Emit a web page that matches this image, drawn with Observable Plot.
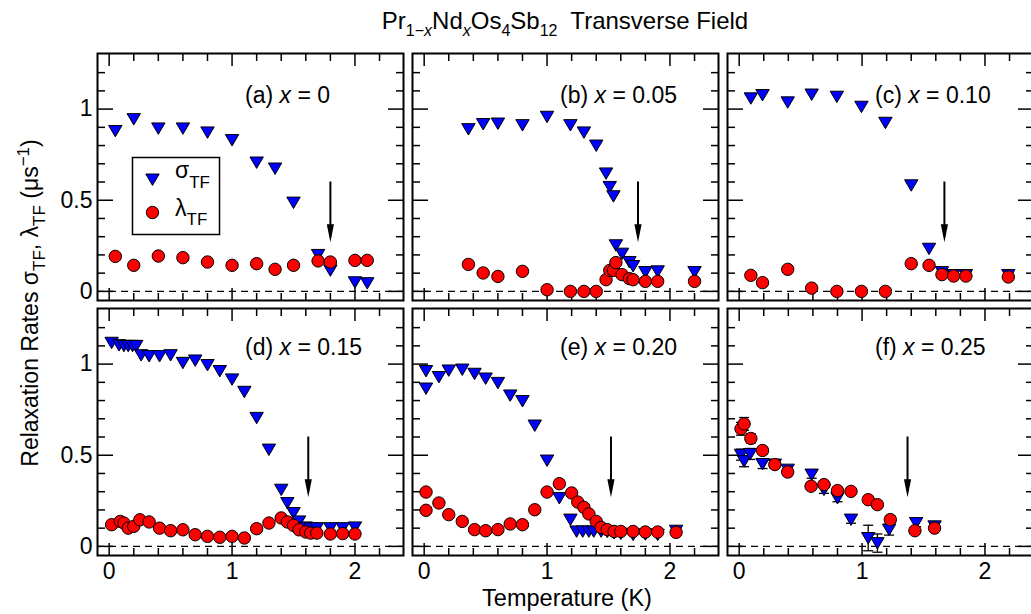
<!DOCTYPE html>
<html><head><meta charset="utf-8">
<script src="https://cdn.jsdelivr.net/npm/d3@7"></script>
<script src="https://cdn.jsdelivr.net/npm/@observablehq/plot@0.6"></script>
<style>
html,body{margin:0;padding:0;background:#fff;overflow:hidden}
#chart{position:relative;width:1031px;height:614px;overflow:hidden;background:#fff;font-family:"Liberation Sans",Arial,Helvetica,sans-serif}
#chart svg{position:absolute;max-width:none;overflow:visible;background:none}
</style></head><body><div id="chart"></div>
<script>
// ---------- tick values ----------
const xMajorTicks = [0, 1, 2];
const xMinorTicks = [0.2, 0.4, 0.6, 0.8, 1.2, 1.4, 1.6, 1.8, 2.2];
const yMajorTicks = [0, 0.5, 1];
const yMinorTicks = [0.1, 0.2, 0.3, 0.4, 0.6, 0.7, 0.8, 0.9, 1.1, 1.2];

// ---------- panel labels ----------
const panelLetters = ["(a)", "(b)", "(c)", "(d)", "(e)", "(f)"];
const ndContent = ["0", "0.05", "0.10", "0.15", "0.20", "0.25"];

// ---------- (a) x = 0 ----------
const aT = [0.05, 0.2, 0.4, 0.6, 0.8, 1.0, 1.2, 1.35, 1.5, 1.7, 1.8, 2.0, 2.1];
const aSigma = [0.88, 0.945, 0.894, 0.894, 0.872, 0.83, 0.707, 0.674, 0.487, 0.20, 0.115, 0.05, 0.045];
const aLambda = [0.192, 0.143, 0.194, 0.185, 0.161, 0.143, 0.152, 0.121, 0.143, 0.167, 0.161, 0.17, 0.17];

// ---------- (b) x = 0.05 ----------
const bT = [0.36, 0.48, 0.60, 0.80, 1.00, 1.19, 1.30, 1.40, 1.48, 1.51, 1.54, 1.56, 1.61, 1.67, 1.70, 1.80, 1.90, 2.20];
const bSigma = [0.89, 0.918, 0.921, 0.912, 0.958, 0.912, 0.872, 0.80, 0.647, 0.573, 0.522, 0.253, 0.207, 0.161, 0.139, 0.106, 0.11, 0.106];
const bLambda = [0.148, 0.101, 0.082, 0.11, 0.009, 0.0, 0.0, 0.0, 0.064, 0.115, 0.115, 0.158, 0.092, 0.07, 0.064, 0.055, 0.055, 0.055];

// ---------- (c) x = 0.10 ----------
const cT = [0.095, 0.19, 0.395, 0.59, 0.795, 0.995, 1.19, 1.40, 1.545, 1.65, 1.745, 1.845, 2.19];
const cSigma = [1.059, 1.077, 1.037, 1.08, 1.068, 1.013, 0.925, 0.582, 0.234, 0.106, 0.09, 0.09, 0.09];
const cLambda = [0.088, 0.048, 0.121, 0.018, 0.0, 0.0, 0.0, 0.152, 0.143, 0.092, 0.084, 0.084, 0.079];

// ---------- (d) x = 0.15 ----------
const dSigmaT = [0.02, 0.08, 0.12, 0.155, 0.19, 0.22, 0.26, 0.325, 0.41, 0.50, 0.60, 0.70, 0.80, 0.90, 1.0, 1.10, 1.20, 1.30, 1.40, 1.45, 1.50, 1.545, 1.60, 1.64, 1.69, 1.80, 1.90, 2.0];
const dSigma = [1.117, 1.104, 1.10, 1.10, 1.10, 1.10, 1.049, 1.044, 1.044, 1.049, 1.007, 1.02, 0.995, 0.962, 0.916, 0.848, 0.705, 0.531, 0.311, 0.238, 0.183, 0.137, 0.104, 0.10, 0.10, 0.10, 0.10, 0.104];
const dLambdaT = [0.02, 0.09, 0.12, 0.155, 0.20, 0.25, 0.325, 0.41, 0.50, 0.60, 0.70, 0.80, 0.90, 1.0, 1.10, 1.20, 1.30, 1.40, 1.45, 1.50, 1.545, 1.60, 1.64, 1.69, 1.80, 1.90, 2.0];
const dLambda = [0.119, 0.137, 0.128, 0.10, 0.11, 0.146, 0.134, 0.10, 0.086, 0.091, 0.064, 0.055, 0.05, 0.055, 0.046, 0.097, 0.128, 0.156, 0.134, 0.115, 0.091, 0.079, 0.073, 0.073, 0.068, 0.07, 0.068];

// ---------- (e) x = 0.20 ----------
const eSigmaT = [0.015, 0.015, 0.12, 0.20, 0.31, 0.41, 0.50, 0.60, 0.70, 0.80, 0.90, 1.0, 1.10, 1.19, 1.24, 1.29, 1.34, 1.38, 1.44, 1.49, 1.545, 1.60, 1.70, 1.80, 1.90, 2.05];
const eSigma = [0.866, 0.962, 0.929, 0.965, 0.97, 0.947, 0.921, 0.897, 0.828, 0.797, 0.663, 0.471, 0.265, 0.147, 0.082, 0.082, 0.082, 0.082, 0.082, 0.08, 0.073, 0.07, 0.064, 0.066, 0.064, 0.086];
const eLambdaT = [0.015, 0.015, 0.12, 0.20, 0.31, 0.41, 0.50, 0.60, 0.70, 0.80, 0.90, 1.0, 1.10, 1.20, 1.25, 1.30, 1.34, 1.40, 1.44, 1.49, 1.545, 1.60, 1.70, 1.80, 1.90, 2.05];
const eLambda = [0.298, 0.198, 0.238, 0.174, 0.137, 0.092, 0.086, 0.092, 0.123, 0.119, 0.201, 0.298, 0.344, 0.293, 0.243, 0.214, 0.178, 0.137, 0.104, 0.092, 0.082, 0.082, 0.082, 0.079, 0.079, 0.077];

// ---------- (f) x = 0.25 (with error bars) ----------
const fSigmaT = [0.015, 0.04, 0.09, 0.19, 0.29, 0.395, 0.59, 0.69, 0.80, 0.91, 1.05, 1.125, 1.22, 1.44, 1.59];
const fSigma = [0.503, 0.467, 0.507, 0.452, 0.449, 0.421, 0.394, 0.311, 0.265, 0.147, 0.046, 0.018, 0.092, 0.128, 0.11];
const fSigmaErr = [0.03, 0.03, 0.03, 0.025, 0.02, 0.02, 0.02, 0.02, 0.02, 0.02, 0.07, 0.05, 0.03, 0.02, 0.02];
const fLambdaT = [0.015, 0.04, 0.095, 0.19, 0.29, 0.395, 0.585, 0.69, 0.80, 0.91, 1.05, 1.125, 1.23, 1.43, 1.59];
const fLambda = [0.645, 0.672, 0.592, 0.526, 0.449, 0.408, 0.33, 0.339, 0.306, 0.302, 0.256, 0.229, 0.147, 0.086, 0.10];
const fLambdaErr = [0.035, 0.035, 0.025, 0.02, 0.02, 0.02, 0.015, 0.015, 0.015, 0.015, 0.015, 0.015, 0.02, 0.015, 0.015];

// ---------- transition arrows (temperature of each arrow) ----------
const arrowT = [1.80, 1.74, 1.67, 1.62, 1.52, 1.37];
const arrowTop = 0.6;
const arrowTip = 0.27;

// ---------- build panels ----------
const panels = [
  {sT: aT, s: aSigma, lT: aT, l: aLambda},
  {sT: bT, s: bSigma, lT: bT, l: bLambda},
  {sT: cT, s: cSigma, lT: cT, l: cLambda},
  {sT: dSigmaT, s: dSigma, lT: dLambdaT, l: dLambda},
  {sT: eSigmaT, s: eSigma, lT: eLambdaT, l: eLambda},
  {sT: fSigmaT, s: fSigma, sE: fSigmaErr, lT: fLambdaT, l: fLambda, lE: fLambdaErr}
];

const BLUE = "#0000ff", RED = "#ff0000";
const triDown = {draw(ctx, size) { const r = Math.sqrt(size / Math.PI); ctx.moveTo(-r, -0.82 * r); ctx.lineTo(r, -0.82 * r); ctx.lineTo(0, 0.88 * r); ctx.closePath(); }};
const arrowHead = {draw(ctx) { ctx.moveTo(0, 0); ctx.lineTo(-3.6, -18); ctx.lineTo(3.6, -18); ctx.closePath(); }};
const cap = {draw(ctx) { ctx.moveTo(-5, 0); ctx.lineTo(5, 0); }};

const W = 306, H = 247, ML = 45, MR = 6, MT = 6, MB = 42;
const colLeft = [97, 412, 727], rowTop = [53, 308];
const chart = document.getElementById("chart");
const FONT = "Liberation Sans, Arial, Helvetica, sans-serif";

function tickMarks() {
  const o = {fill: "none", label: null, stroke: "#000", strokeWidth: 1.5};
  return [
    Plot.axisX(xMajorTicks, {...o, anchor: "bottom", tickSize: -12}),
    Plot.axisX(xMinorTicks, {...o, anchor: "bottom", tickSize: -7}),
    Plot.axisX(xMajorTicks, {...o, anchor: "top", tickSize: -12}),
    Plot.axisX(xMinorTicks, {...o, anchor: "top", tickSize: -7}),
    Plot.axisY(yMajorTicks, {...o, anchor: "left", tickSize: -16}),
    Plot.axisY(yMinorTicks, {...o, anchor: "left", tickSize: -8}),
    Plot.axisY(yMajorTicks, {...o, anchor: "right", tickSize: -16}),
    Plot.axisY(yMinorTicks, {...o, anchor: "right", tickSize: -8})
  ];
}

function errMarks(data) {
  return [
    Plot.ruleX(data, {x: "T", y1: d => d.v - d.e, y2: d => d.v + d.e, stroke: "#000", strokeWidth: 1.3}),
    Plot.dot(data, {x: "T", y: d => d.v - d.e, symbol: cap, r: 5, stroke: "#000", fill: "none", strokeWidth: 1.3}),
    Plot.dot(data, {x: "T", y: d => d.v + d.e, symbol: cap, r: 5, stroke: "#000", fill: "none", strokeWidth: 1.3})
  ];
}

panels.forEach((p, i) => {
  const col = i % 3, row = Math.floor(i / 3);
  const sData = p.sT.map((t, k) => ({T: t, v: p.s[k], e: p.sE ? p.sE[k] : 0}));
  const lData = p.lT.map((t, k) => ({T: t, v: p.l[k], e: p.lE ? p.lE[k] : 0}));
  const marks = [
    Plot.ruleY([0], {y: d => d, stroke: "#000", strokeWidth: 1.3, strokeDasharray: "7,5"}),
    ...tickMarks(),
    Plot.ruleX([arrowT[i]], {x: d => d, y1: () => arrowTop, y2: () => arrowTip + 0.03, stroke: "#000", strokeWidth: 2}),
    Plot.dot([arrowT[i]], {x: d => d, y: () => arrowTip, symbol: arrowHead, r: 5, fill: "#000", stroke: "none"}),
    ...(p.sE ? errMarks(sData) : []),
    Plot.dot(sData, {x: "T", y: "v", symbol: triDown, r: 6.7, fill: BLUE, stroke: "#000", strokeWidth: 1}),
    ...(p.lE ? errMarks(lData) : []),
    Plot.dot(lData, {x: "T", y: "v", r: 6.2, fill: RED, stroke: "#000", strokeWidth: 1}),
    Plot.frame({stroke: "#000", strokeWidth: 2})
  ];
  if (col === 0) marks.push(Plot.axisY(yMajorTicks, {anchor: "left", tickSize: 0, tickPadding: 5, fontSize: 23, label: null, tickFormat: d => String(d), fill: "#000"}));
  if (row === 1) marks.push(Plot.axisX(xMajorTicks, {anchor: "bottom", tickSize: 0, tickPadding: 7, fontSize: 23, label: null, tickFormat: d => String(d), fill: "#000"}));
  if (i === 0) {
    marks.push(
      Plot.frame({insetLeft: 35, insetTop: 104, insetRight: W - 35 - 87, insetBottom: H - 104 - 77, stroke: "#000", strokeWidth: 1.5}),
      Plot.dot([0], {frameAnchor: "top-left", dx: 55, dy: 126, symbol: triDown, r: 6.7, fill: BLUE, stroke: "#000", strokeWidth: 1}),
      Plot.dot([0], {frameAnchor: "top-left", dx: 55, dy: 159, r: 6.2, fill: RED, stroke: "#000", strokeWidth: 1})
    );
  }
  const svg = Plot.plot({
    width: W + ML + MR, height: H + MT + MB,
    marginLeft: ML, marginRight: MR, marginTop: MT, marginBottom: MB,
    x: {domain: [-0.095, 2.395]},
    y: {domain: [-0.05, 1.305]},
    style: {fontFamily: FONT, fontSize: "23px", background: "none", overflow: "visible", maxWidth: "none", color: "#000"},
    marks
  });
  svg.style.left = (colLeft[col] - ML) + "px";
  svg.style.top = (rowTop[row] - MT) + "px";
  const g = d3.select(svg);
  const t = g.append("text").attr("x", ML + 148).attr("y", MT + (row === 0 ? 50 : 47)).attr("text-anchor", "start")
    .attr("font-size", 23).attr("fill", "#000").attr("font-family", FONT).style("white-space", "pre");
  t.append("tspan").text(panelLetters[i] + " ");
  t.append("tspan").attr("font-style", "italic").text("x");
  t.append("tspan").text(" = " + ndContent[i]);
  if (i === 0) {
    const s = g.append("text").attr("x", ML + 78).attr("y", MT + 125).attr("text-anchor", "start").attr("font-size", 23).attr("fill", "#000").attr("font-family", FONT);
    s.append("tspan").text("σ");
    s.append("tspan").attr("font-size", 17).attr("dy", 10).text("TF");
    const l = g.append("text").attr("x", ML + 78).attr("y", MT + 163).attr("text-anchor", "start").attr("font-size", 23).attr("fill", "#000").attr("font-family", FONT);
    l.append("tspan").text("λ");
    l.append("tspan").attr("font-size", 17).attr("dy", 9).text("TF");
  }
  chart.appendChild(svg);
});

// ---------- titles & axis labels ----------
const ov = d3.select(chart).append("svg").attr("width", 1031).attr("height", 614)
  .style("left", "0px").style("top", "0px").style("pointer-events", "none")
  .attr("font-family", FONT).attr("fill", "#000");
const title = ov.append("text").attr("x", 565).attr("y", 29).attr("text-anchor", "middle").attr("font-size", 24).style("white-space", "pre");
title.append("tspan").text("Pr");
title.append("tspan").attr("font-size", 16).attr("dy", 7).text("1−");
title.append("tspan").attr("font-size", 16).attr("font-style", "italic").text("x");
title.append("tspan").attr("dy", -7).text("Nd");
title.append("tspan").attr("font-size", 16).attr("font-style", "italic").attr("dy", 7).text("x");
title.append("tspan").attr("dy", -7).text("Os");
title.append("tspan").attr("font-size", 16).attr("dy", 7).text("4");
title.append("tspan").attr("dy", -7).text("Sb");
title.append("tspan").attr("font-size", 16).attr("dy", 7).text("12");
title.append("tspan").attr("dy", -7).text("  Transverse Field");

ov.append("text").attr("x", 567).attr("y", 606).attr("text-anchor", "middle").attr("font-size", 23.5).text("Temperature (K)");

const yl = ov.append("text").attr("transform", "translate(38,303) rotate(-90)").attr("text-anchor", "middle").attr("font-size", 23);
yl.append("tspan").text("Relaxation Rates σ");
yl.append("tspan").attr("font-size", 17).attr("dy", 7).text("TF");
yl.append("tspan").attr("dy", -7).text(", λ");
yl.append("tspan").attr("font-size", 17).attr("dy", 7).text("TF");
yl.append("tspan").attr("dy", -7).text(" (μs");
yl.append("tspan").attr("font-size", 17).attr("dy", -9).text("−1");
yl.append("tspan").attr("dy", 9).text(")");
</script></body></html>
